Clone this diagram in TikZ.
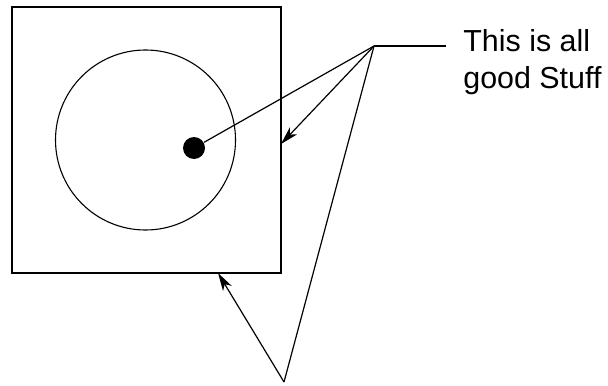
\documentclass[tikz,border=0pt]{standalone}
\usepackage{fontspec}
\setmainfont{Liberation Sans}
\usetikzlibrary{positioning,arrows.meta,calc}

\begin{document}
\begin{tikzpicture}[
  x=0.5pt, y=-0.5pt,
  every node/.style={font=\fontsize{15.2}{18.5}\selectfont},
  frame/.style={draw, line width=1pt, minimum width=134.5pt,
                minimum height=133pt, inner sep=0pt},
  ring/.style={circle, draw, line width=0.55pt, minimum size=90pt, inner sep=0pt},
  blob/.style={circle, fill=black, minimum size=11pt, inner sep=0pt},
  lead/.style={line width=0.6pt},
  arr/.style={lead, -{Stealth[length=9pt, width=5pt, inset=2.5pt]}}]

\useasboundingbox (0,0) rectangle (608,385);

%% Square, circle and dot
\node[frame] (box)  at (146.5,140) {};
\node[ring]  (ring) at (145.5,140) {};
\node[blob]  (dot)  at (194,148) {};

%% Label and leader points
\coordinate (junc) at (374,46);
\coordinate (foot) at (284,382);
\coordinate (hitR) at (281,144);
\coordinate (hitB) at (218,273);
\node[anchor=west, align=left, inner xsep=8.5pt, inner ysep=0pt]
  (note) at (446,62) {This is all\\good Stuff};

%% Leaders
\draw[lead] (junc) -- (note.west |- junc);
\draw[lead] (junc) -- (dot);
\draw[arr]  (junc) -- (hitR);
\draw[lead] (junc) -- (foot);
\draw[arr]  (foot) -- (hitB);
\end{tikzpicture}
\end{document}
